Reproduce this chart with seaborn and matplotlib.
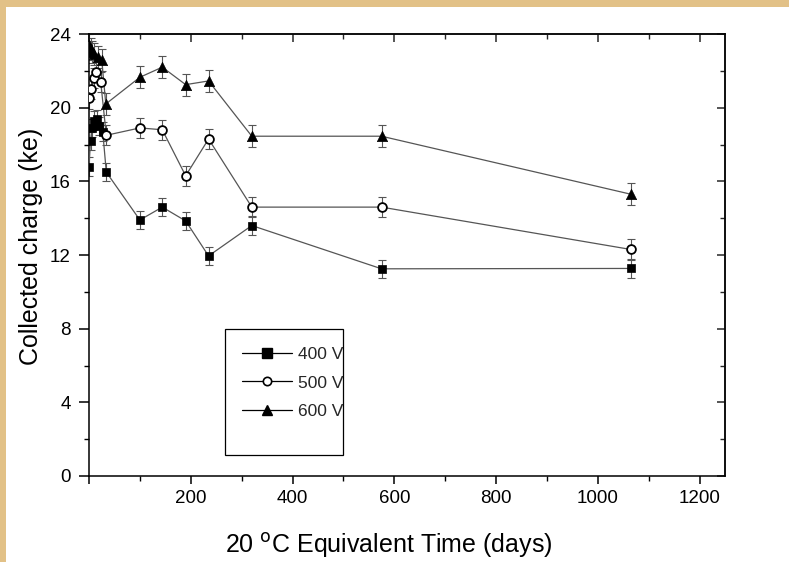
import matplotlib
matplotlib.use("Agg")
import matplotlib.pyplot as plt
from matplotlib.lines import Line2D
from matplotlib.patches import Rectangle
from matplotlib.ticker import MultipleLocator, FuncFormatter
import seaborn as sns
import pandas as pd
import numpy as np

# ---- data ----
x_400 = [0, 3, 6, 10, 15, 20, 27, 34, 100, 144, 190, 235, 320, 575, 1065]
y_400 = [16.8, 18.2, 18.9, 19.3, 19.4, 19.0, 18.7, 16.5, 13.9, 14.6, 13.85, 11.95, 13.6, 11.25, 11.27]
e_400 = [0.5] * len(x_400)

x_500 = [0, 4, 9, 14, 23, 34, 100, 144, 190, 235, 320, 575, 1065]
y_500 = [20.5, 21.0, 21.6, 21.95, 21.4, 18.5, 18.9, 18.8, 16.3, 18.3, 14.6, 14.6, 12.3]
e_500 = [0.55] * len(x_500)

x_600 = [0, 3, 6, 10, 17, 25, 33, 100, 144, 190, 235, 320, 575, 1065]
y_600 = [23.4, 23.2, 23.0, 22.9, 22.75, 22.6, 20.2, 21.65, 22.2, 21.25, 21.45, 18.45, 18.45, 15.3]
e_600 = [0.6] * len(x_600)

labels = ["400 V", "500 V", "600 V"]
markers = ["s", "o", "^"]
x_ticks = [0, 200, 400, 600, 800, 1000, 1200]
y_ticks = [0, 4, 8, 12, 16, 20, 24]

frames = []
for lab, xs, ys, es in zip(labels, [x_400, x_500, x_600], [y_400, y_500, y_600], [e_400, e_500, e_600]):
    frames.append(pd.DataFrame({"t": xs, "q": ys, "err": es, "series": lab}))
df = pd.concat(frames, ignore_index=True)

sns.set_theme(style="white")
plt.rcParams["font.family"] = ["Liberation Sans", "DejaVu Sans"]

fig = plt.figure(figsize=(7.89, 5.62), dpi=100)
fig.patch.set_facecolor("#E2C187")
fig.patches.append(Rectangle((6 / 789, 0), 1 - 6 / 789, 1 - 7 / 562, transform=fig.transFigure,
                             facecolor="white", edgecolor="none", zorder=-10))
ax = fig.add_axes([89 / 789, 1 - 476 / 562, 636 / 789, 442 / 562])
ax.set_facecolor("white")

line_col = "#555555"
for lab, mk in zip(labels, markers):
    d = df[df["series"] == lab]
    ax.errorbar(d["t"], d["q"], yerr=d["err"], fmt="none", ecolor="#555555",
                elinewidth=0.8, capsize=3, capthick=0.8, zorder=2)
    sns.lineplot(data=d, x="t", y="q", ax=ax, color=line_col, linewidth=0.9,
                 estimator=None, sort=False, legend=False, zorder=3)
    if mk == "o":
        sns.scatterplot(data=d, x="t", y="q", ax=ax, marker="o", s=40, facecolor="white",
                        edgecolor="black", linewidth=1.3, legend=False, zorder=4)
    elif mk == "^":
        sns.scatterplot(data=d, x="t", y="q", ax=ax, marker="^", s=55, color="black",
                        edgecolor="black", linewidth=0.5, legend=False, zorder=4)
    else:
        sns.scatterplot(data=d, x="t", y="q", ax=ax, marker="s", s=38, color="black",
                        edgecolor="black", linewidth=0.5, legend=False, zorder=4)

ax.set_xlim(0, 1250)
ax.set_ylim(0, 24)
ax.set_xticks(x_ticks)
ax.set_yticks(y_ticks)
ax.xaxis.set_minor_locator(MultipleLocator(100))
ax.yaxis.set_minor_locator(MultipleLocator(2))
ax.xaxis.set_major_formatter(FuncFormatter(lambda v, p: "" if v == 0 else f"{int(v)}"))

for s in ax.spines.values():
    s.set_visible(True)
    s.set_color("black")
    s.set_linewidth(1.1)

ax.tick_params(axis="both", which="major", length=6, width=1.1, color="black",
               labelcolor="black")
ax.tick_params(axis="both", which="minor", length=3.5, width=1.0, color="black")
ax.tick_params(axis="x", which="both", direction="out", bottom=True, top=False, pad=4, labelsize=13.5)
ax.tick_params(axis="y", which="both", direction="out", left=True, right=False, labelsize=13.5)
ax.tick_params(axis="y", which="major", length=7, pad=6)
# mirrored inward ticks on top and right
ax_top = ax.secondary_xaxis("top")
ax_top.set_xticks(x_ticks)
ax_top.xaxis.set_minor_locator(MultipleLocator(100))
ax_top.tick_params(which="major", direction="in", length=6, width=1.1, labeltop=False)
ax_top.tick_params(which="minor", direction="in", length=3.5, width=1.0)
ax_top.spines["top"].set_linewidth(1.1)
ax_right = ax.secondary_yaxis("right")
ax_right.set_yticks(y_ticks)
ax_right.yaxis.set_minor_locator(MultipleLocator(2))
ax_right.tick_params(which="major", direction="in", length=6, width=1.1, labelright=False)
ax_right.tick_params(which="minor", direction="in", length=3.5, width=1.0)
ax_right.spines["right"].set_linewidth(1.1)

ax.set_xlabel("20 $^{\\mathrm{o}}$C Equivalent Time (days)", fontsize=18, color="black")
ax.xaxis.set_label_coords(0.472, -0.125)
ax.set_ylabel("Collected charge (ke)", fontsize=18, color="black")
ax.yaxis.set_label_coords(-0.072, 0.52)

handles = []
for lab, mk in zip(labels, markers):
    if mk == "o":
        h = Line2D([], [], color="black", linewidth=0.9, marker="o", markersize=6,
                   markerfacecolor="white", markeredgecolor="black", markeredgewidth=1.2)
    else:
        h = Line2D([], [], color="black", linewidth=0.9, marker=mk, markersize=6.5,
                   markerfacecolor="black", markeredgecolor="black")
    handles.append(h)
leg = ax.legend(handles, labels, loc="upper left", bbox_to_anchor=(0.240, 0.2925),
                fontsize=12.5, frameon=False, handlelength=2.88, labelspacing=0.78,
                borderpad=0, handletextpad=0.35, borderaxespad=0)
ax.add_patch(Rectangle((0.214, 0.0475), 0.186, 0.285, transform=ax.transAxes,
                       facecolor="none", edgecolor="black", linewidth=0.9, zorder=5))

fig.savefig("out.png", dpi=100, facecolor=fig.get_facecolor())
